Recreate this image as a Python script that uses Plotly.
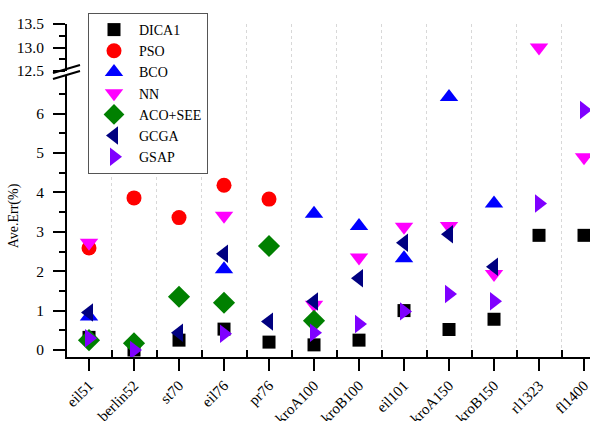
import plotly.graph_objects as go

categories = ["eil51", "berlin52", "st70", "eil76", "pr76", "kroA100",
              "kroB100", "eil101", "kroA150", "kroB150", "rl1323", "fl1400"]

DICA1 = [0.32, 0.0, 0.25, 0.53, 0.20, 0.13, 0.25, 1.00, 0.52, 0.78, 2.91, 2.91]
PSO = [2.59, 3.86, 3.36, 4.18, 3.83, None, None, None, None, None, None, None]
BCO = [0.85, None, None, 2.05, None, 3.46, 3.15, 2.33, 6.42, 3.72, None, None]
NN = [2.72, None, None, 3.41, None, 1.15, 2.35, 3.13, 3.15, 1.93, 13.0, 4.89]
ACO_SEE = [0.25, 0.17, 1.35, 1.20, 2.64, 0.74, None, None, None, None, None, None]
GCGA = [0.95, None, 0.44, 2.44, 0.72, 1.23, 1.82, 2.72, 2.94, 2.11, None, None]
GSAP = [0.30, 0.0, None, 0.41, None, 0.44, 0.66, 0.98, 1.42, 1.24, 3.72, 6.09]

series = [
    ("DICA1", DICA1, "square", "#000000", 13),
    ("PSO", PSO, "circle", "#FF0000", 15),
    ("BCO", BCO, "triangle-up", "#0000FF", 16),
    ("NN", NN, "triangle-down", "#FF00FF", 16),
    ("ACO+SEE", ACO_SEE, "diamond", "#008000", 17),
    ("GCGA", GCGA, "triangle-left", "#000080", 16),
    ("GSAP", GSAP, "triangle-right", "#7F00FF", 16),
]

FONT = "Liberation Serif, Times New Roman, serif"
xs = list(range(len(categories)))

fig = go.Figure()
for name, vals, sym, col, size in series:
    lo = [v if (v is not None and v < 10) else None for v in vals]
    hi = [v if (v is not None and v >= 10) else None for v in vals]
    fig.add_trace(go.Scatter(x=xs, y=lo, mode="markers", name=name,
                             marker=dict(symbol=sym, color=col, size=size, line=dict(width=0)),
                             yaxis="y", legendgroup=name))
    if any(v is not None for v in hi):
        fig.add_trace(go.Scatter(x=xs, y=hi, mode="markers", name=name, showlegend=False,
                                 marker=dict(symbol=sym, color=col, size=size, line=dict(width=0)),
                                 yaxis="y2", legendgroup=name))

W, H = 590, 421
L, R, T, B = 67, 0, 24, 64
ph = H - T - B
pw = W - L - R

def py(y):
    return (H - B - y) / ph

def px(x):
    return (x - L) / pw

lower_top = py(75)
upper_bot = py(71)

fig.update_layout(
    width=W, height=H,
    margin=dict(l=L, r=R, t=T, b=B, autoexpand=False),
    paper_bgcolor="white", plot_bgcolor="white",
    font=dict(family=FONT, size=15, color="black"),
    showlegend=True,
    legend=dict(x=px(88), y=py(13), xanchor="left", yanchor="top",
                bordercolor="#555555", borderwidth=1, bgcolor="white",
                font=dict(family=FONT, size=14), tracegroupgap=0,
                itemsizing="trace", itemwidth=40),
    xaxis=dict(range=[-0.489, 11.133], tickmode="array", tickvals=xs, ticktext=categories,
               tickangle=-45, ticks="outside", ticklen=12, tickwidth=2, tickcolor="black",
               showline=True, linecolor="black", linewidth=2, showgrid=False, zeroline=False,
               anchor="y", tickfont=dict(family=FONT, size=15), ticklabeloverflow="allow",
               minor=dict(tickmode="array", tickvals=[i + 0.5 for i in range(len(categories) - 1)],
                          ticks="inside", ticklen=7, tickwidth=2, tickcolor="black",
                          showgrid=True, gridcolor="#D8D8D8", griddash="dot", gridwidth=1)),
    yaxis=dict(domain=[0, lower_top], range=[-0.178, 6.98], tickmode="linear", tick0=0, dtick=1,
               ticks="outside", ticklen=12, tickwidth=2, tickcolor="black",
               showline=True, linecolor="black", linewidth=2, showgrid=False, zeroline=False,
               tickfont=dict(family=FONT, size=15.5), ticklabelstandoff=6,
               minor=dict(tick0=0.5, dtick=1, ticks="outside", ticklen=6, tickwidth=2, tickcolor="black"),
               title=dict(text="Ave.Err(%)", font=dict(family=FONT, size=14), standoff=14)),
    yaxis2=dict(domain=[upper_bot, 1], range=[12.5, 13.5], tickmode="array",
                tickvals=[12.5, 13.0, 13.5], ticktext=["12.5", "13.0", "13.5"],
                ticks="outside", ticklen=12, tickwidth=2, tickcolor="black",
                showline=True, linecolor="black", linewidth=2, showgrid=False, zeroline=False,
                anchor="x", tickfont=dict(family=FONT, size=15.5), ticklabelstandoff=6,
                minor=dict(tickmode="array", tickvals=[12.75, 13.25], ticks="outside",
                           ticklen=6, tickwidth=2, tickcolor="black")),
)

# axis break marks
for y0, y1 in [(73, 65), (79, 71)]:
    fig.add_shape(type="line", xref="paper", yref="paper",
                  x0=px(53), y0=py(y0), x1=px(80), y1=py(y1),
                  line=dict(color="black", width=2))

fig.write_html("out.html", config={"displayModeBar": False},
               post_script="document.body.style.margin='0px';")
